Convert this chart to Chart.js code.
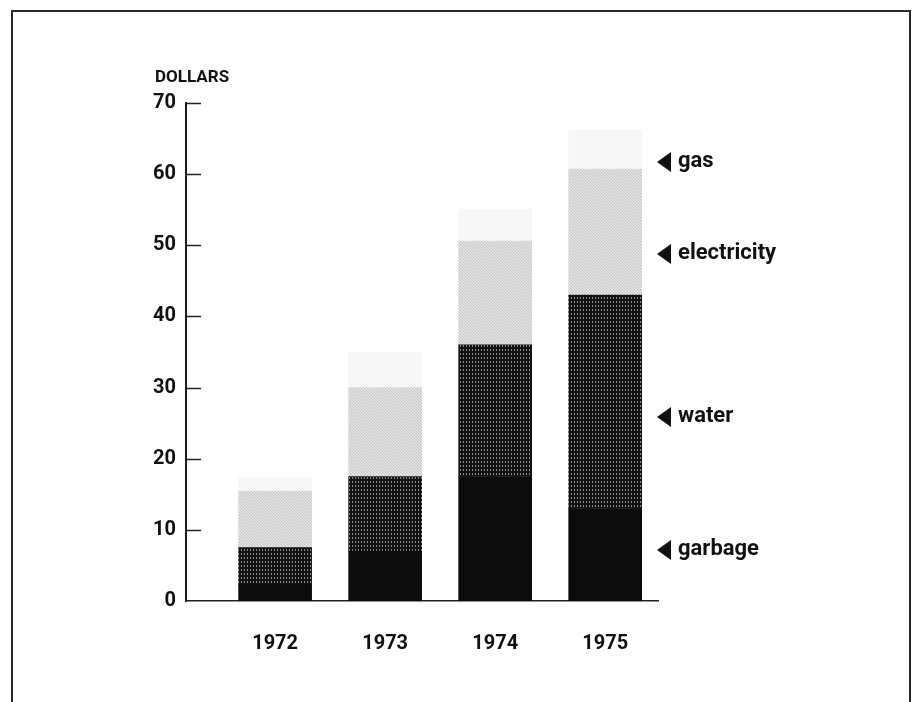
<!DOCTYPE html>
<html><head><meta charset="utf-8">
<script src="https://cdn.jsdelivr.net/npm/chart.js@4/dist/chart.umd.min.js"></script>
<style>
html,body{margin:0;padding:0;background:#fff;width:913px;height:702px;overflow:hidden;}
#wrap{position:relative;width:913px;height:702px;}
#frame{position:absolute;left:11px;top:10px;width:900px;height:740px;border:2px solid #2a2a2a;box-sizing:border-box;}
canvas{position:absolute;left:0;top:0;}
.lbl{position:absolute;font-family:Roboto,"DejaVu Sans",sans-serif;font-weight:700;color:#111;line-height:1;white-space:nowrap;}
.arrow{position:absolute;width:0;height:0;border-top:10px solid transparent;border-bottom:10px solid transparent;border-right:14px solid #111;}
</style></head>
<body><div id="wrap"><div id="frame"></div><canvas id="c" width="913" height="702"></canvas>
<div class="lbl" style="left:155px;top:68px;font-size:17px;">DOLLARS</div>
</div>
<script>
// ---- data ----
const years = [1972, 1973, 1974, 1975];
const garbage = [2.3, 7, 17.5, 13];
const water = [5.2, 10.5, 18.5, 30];
const electricity = [7.9, 12.5, 14.6, 17.7];
const gas = [2, 5, 4.5, 5.5];
const yTicks = [0, 10, 20, 30, 40, 50, 60, 70];
const legendNames = ['gas', 'electricity', 'water', 'garbage'];

// ---- layout / style ----
const legendY = {gas: 162, electricity: 254, water: 417, garbage: 550};
const FONT = 'Roboto, "DejaVu Sans", sans-serif';

function pat(w, h, bg, fg, dots) {
  const c = document.createElement('canvas'); c.width = w; c.height = h;
  const x = c.getContext('2d'); x.fillStyle = bg; x.fillRect(0, 0, w, h);
  x.fillStyle = fg; dots.forEach(d => x.fillRect(d[0], d[1], d[2], d[3]));
  return x.createPattern(c, 'repeat');
}
const waterPat = pat(3, 4, '#121212', '#8c8c8c', [[1, 1, 1, 2]]);
const elecPat = pat(3, 3, '#e2e2e2', '#c4c4c4', [[0, 0, 1, 1], [1, 1, 1, 1], [2, 2, 1, 1]]);

const wrap = document.getElementById('wrap');
legendNames.forEach(n => {
  const a = document.createElement('div'); a.className = 'arrow';
  a.style.left = '657px'; a.style.top = (legendY[n] - 10) + 'px'; wrap.appendChild(a);
  const t = document.createElement('div'); t.className = 'lbl'; t.textContent = n;
  t.style.left = '678px'; t.style.top = legendY[n] + 'px'; t.style.fontSize = '22px';
  t.style.transform = 'translateY(-60%)'; wrap.appendChild(t);
});

const innerTicks = {
  id: 'innerTicks',
  afterDraw(chart) {
    const y = chart.scales.y, ctx = chart.ctx, l = chart.chartArea.left;
    ctx.save(); ctx.strokeStyle = '#222'; ctx.lineWidth = 1.5;
    y.ticks.forEach(t => {
      if (t.value === 0) return;
      const p = Math.round(y.getPixelForValue(t.value)) + 0.5;
      ctx.beginPath(); ctx.moveTo(l, p); ctx.lineTo(l + 15, p); ctx.stroke();
    });
    ctx.restore();
  }
};

const ds = (label, data, bg) => ({label, data, backgroundColor: bg, borderWidth: 0, barThickness: 73});

new Chart(document.getElementById('c'), {
  type: 'bar',
  data: {
    labels: years,
    datasets: [
      ds('garbage', garbage, '#0b0b0b'),
      ds('water', water, waterPat),
      ds('electricity', electricity, elecPat),
      ds('gas', gas, '#f7f7f7')
    ]
  },
  options: {
    responsive: false, animation: false, devicePixelRatio: 1,
    layout: {padding: {top: 103, right: 255, bottom: 0, left: 0}},
    plugins: {legend: {display: false}, tooltip: {enabled: false}},
    scales: {
      x: {
        type: 'linear', stacked: true, offset: false,
        min: years[0] - 0.81, max: years[years.length - 1] + 0.48,
        afterBuildTicks: s => { s.ticks = years.map(v => ({value: v})); },
        afterFit: s => { s.height = 101; },
        grid: {display: false, drawTicks: false},
        border: {display: true, color: '#222', width: 1.5},
        ticks: {padding: 31, color: '#111', font: {family: FONT, size: 20, weight: 'bold'}, callback: v => String(v), maxRotation: 0}
      },
      y: {
        stacked: true, min: 0, max: 70,
        afterBuildTicks: s => { s.ticks = yTicks.map(v => ({value: v})); },
        afterFit: s => { s.width = 186; },
        grid: {display: false, drawTicks: false},
        border: {display: true, color: '#1a1a1a', width: 2},
        ticks: {padding: 10, color: '#111', font: {family: FONT, size: 20, weight: 'bold'}}
      }
    }
  },
  plugins: [innerTicks]
});
</script>
</body></html>
